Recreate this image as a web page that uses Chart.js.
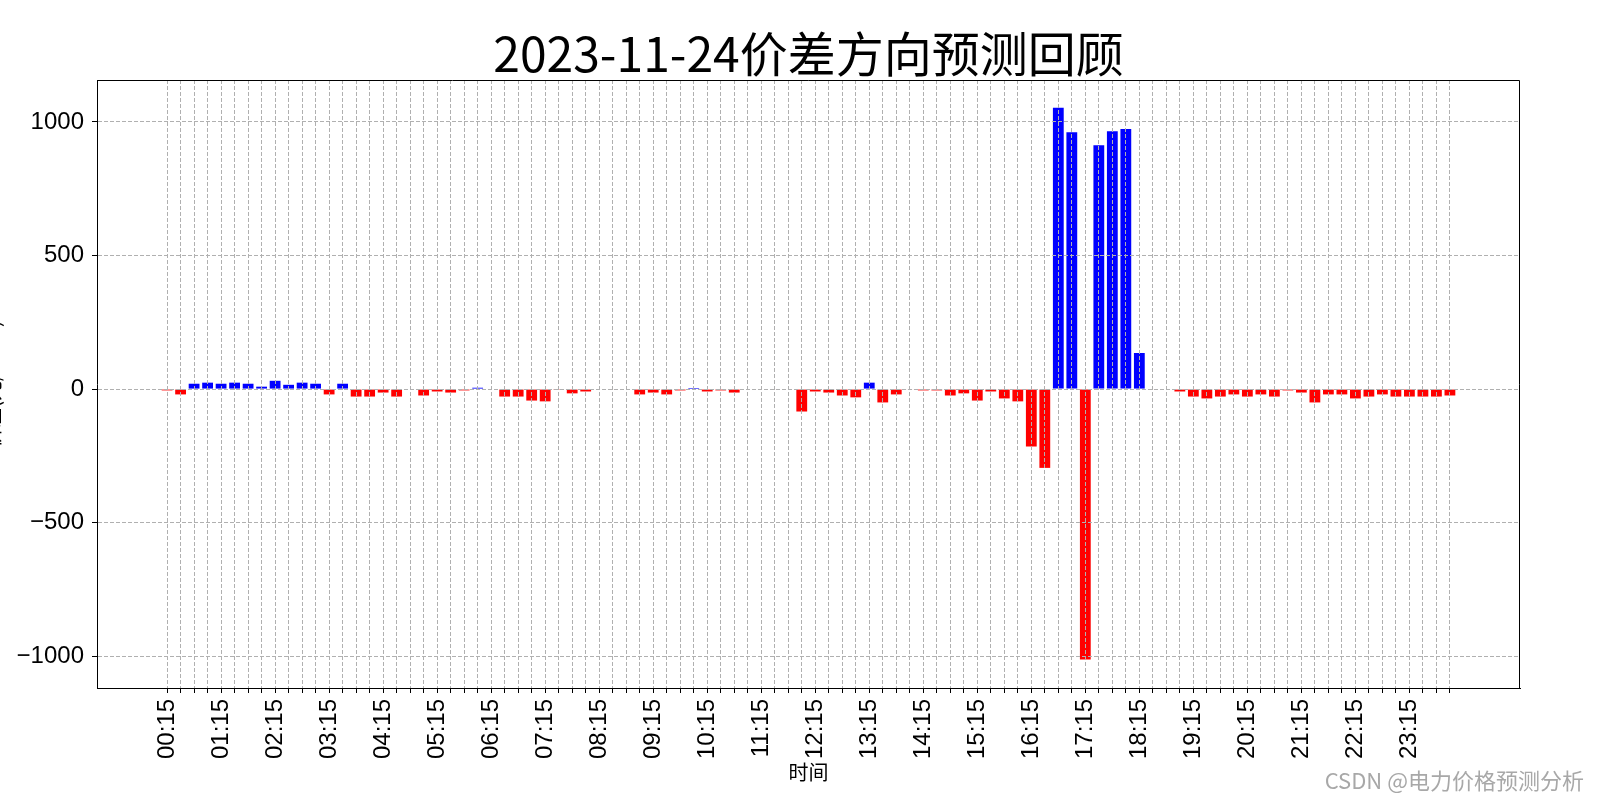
<!DOCTYPE html>
<html>
<head>
<meta charset="utf-8">
<title>2023-11-24价差方向预测回顾</title>
<script src="https://cdn.jsdelivr.net/npm/chart.js@4.4.0/dist/chart.umd.min.js"></script>
<style>
    html, body { margin: 0; padding: 0; background: #fff; }
    #wrap { width: 1600px; height: 800px; }
</style>
</head>
<body>
<div id="wrap"><canvas id="chart" width="1600" height="800"></canvas></div>
<script>
// 15-minute time points, 00:15 .. 24:00
const timeLabels = [
    '00:15', '00:30', '00:45', '01:00', '01:15', '01:30', '01:45', '02:00',
    '02:15', '02:30', '02:45', '03:00', '03:15', '03:30', '03:45', '04:00',
    '04:15', '04:30', '04:45', '05:00', '05:15', '05:30', '05:45', '06:00',
    '06:15', '06:30', '06:45', '07:00', '07:15', '07:30', '07:45', '08:00',
    '08:15', '08:30', '08:45', '09:00', '09:15', '09:30', '09:45', '10:00',
    '10:15', '10:30', '10:45', '11:00', '11:15', '11:30', '11:45', '12:00',
    '12:15', '12:30', '12:45', '13:00', '13:15', '13:30', '13:45', '14:00',
    '14:15', '14:30', '14:45', '15:00', '15:15', '15:30', '15:45', '16:00',
    '16:15', '16:30', '16:45', '17:00', '17:15', '17:30', '17:45', '18:00',
    '18:15', '18:30', '18:45', '19:00', '19:15', '19:30', '19:45', '20:00',
    '20:15', '20:30', '20:45', '21:00', '21:15', '21:30', '21:45', '22:00',
    '22:15', '22:30', '22:45', '23:00', '23:15', '23:30', '23:45', '24:00'
];

// price difference per time point
const diffValues = [
    -5, -20, 20, 24, 20, 24, 20, 9,
    31, 16, 24, 20, -20, 20, -28, -28,
    -13, -28, 0, -24, -9, -13, -5, 5,
    0, -28, -28, -43, -46, -3, -16, -9,
    0, -2, 0, -20, -13, -20, -5, 4,
    -9, -5, -13, 0, 0, -2, 0, -84,
    -9, -13, -24, -31, 24, -50, -20, -2,
    -5, -5, -24, -16, -43, -9, -35, -46,
    -215, -295, 1053, 961, -1012, 913, 965, 974,
    135, -2, 0, -9, -28, -35, -28, -20,
    -28, -20, -28, -5, -13, -50, -20, -20,
    -35, -28, -20, -28, -28, -28, -28, -24
];

const yTicks = [-1000, -500, 0, 500, 1000];
const labelEvery = 4;

const titleText = '2023-11-24价差方向预测回顾';
const xTitle = '时间';
const yTitle = '价差(元/MWh)';
const watermark = 'CSDN @电力价格预测分析';

// axis limits like matplotlib's 5% margins
const yMin = -1119, yMax = 1157;
const xMin = -5.19, xMax = 100.19;

const cjk = "'Noto Sans CJK SC', sans-serif";
const tickFont = { size: 24, family: "'Liberation Sans', 'DejaVu Sans', sans-serif" };
Chart.defaults.font.family = "'Liberation Sans', 'Noto Sans CJK SC', sans-serif";
Chart.defaults.color = '#000';

// frame, title, cut-off y label, watermark
const decorPlugin = {
    id: 'decor',
    afterDraw(chart) {
        const { ctx, chartArea: a } = chart;
        ctx.save();
        ctx.strokeStyle = '#000';
        ctx.lineWidth = 1;
        ctx.beginPath();
        const t = Math.round(a.top) + 0.5;
        const r = Math.round(a.right) - 0.5;
        ctx.moveTo(Math.round(a.left), t);
        ctx.lineTo(r, t);
        ctx.lineTo(r, Math.round(a.bottom));
        ctx.stroke();

        ctx.fillStyle = '#000';
        ctx.textAlign = 'center';
        ctx.textBaseline = 'middle';
        ctx.font = '48px ' + cjk;
        ctx.fillText(titleText, (a.left + a.right) / 2, 54);

        ctx.save();
        ctx.translate(-8, (a.top + a.bottom) / 2);
        ctx.rotate(-Math.PI / 2);
        ctx.font = '20px ' + cjk;
        ctx.fillText(yTitle, 0, 0);
        ctx.restore();

        ctx.fillStyle = '#a8a8a8';
        ctx.textAlign = 'right';
        ctx.font = '22px ' + cjk;
        ctx.fillText(watermark, 1584, 781);
        ctx.restore();
    }
};

const gridOpts = {
    color: '#b0b0b0',
    lineWidth: 1,
    z: 1,
    tickColor: '#000',
    tickLength: 5,
    tickWidth: 1
};
// border.dash dashes the grid lines in v4; z keeps it after the grid layer
const borderOpts = { color: '#000', width: 1, dash: [4, 2], z: 2 };

new Chart(document.getElementById('chart'), {
    type: 'bar',
    data: {
        datasets: [{
            data: diffValues.map((v, i) => ({ x: i, y: v })),
            backgroundColor: diffValues.map(v => v >= 0 ? '#0000ff' : '#ff0000'),
            borderWidth: 0,
            barPercentage: 1,
            categoryPercentage: 0.8
        }]
    },
    options: {
        responsive: false,
        animation: false,
        devicePixelRatio: 1,
        layout: { padding: { top: 80, right: 80, left: 0, bottom: 0 } },
        plugins: {
            legend: { display: false },
            tooltip: { enabled: false }
        },
        scales: {
            x: {
                type: 'linear',
                min: xMin,
                max: xMax,
                bounds: 'data',
                offset: false,
                grid: Object.assign({ offset: false }, gridOpts),
                border: borderOpts,
                afterBuildTicks: axis => {
                    axis.ticks = timeLabels.map((_, i) => ({ value: i }));
                },
                afterFit: scale => { scale.height = 112; },
                ticks: {
                    autoSkip: false,
                    minRotation: 90,
                    maxRotation: 90,
                    padding: 6,
                    font: tickFont,
                    callback: value => value % labelEvery === 0 ? timeLabels[value] : ''
                },
                title: {
                    display: true,
                    text: xTitle,
                    font: { size: 20, family: cjk },
                    padding: { top: 0, bottom: 16 }
                }
            },
            y: {
                min: yMin,
                max: yMax,
                grid: gridOpts,
                border: borderOpts,
                afterBuildTicks: axis => {
                    axis.ticks = yTicks.map(v => ({ value: v }));
                },
                afterFit: scale => { scale.width = 97; },
                ticks: {
                    padding: 8,
                    font: tickFont,
                    callback: value => value < 0 ? '\u2212' + Math.abs(value) : String(value)
                }
            }
        }
    },
    plugins: [decorPlugin]
});
</script>
</body>
</html>
